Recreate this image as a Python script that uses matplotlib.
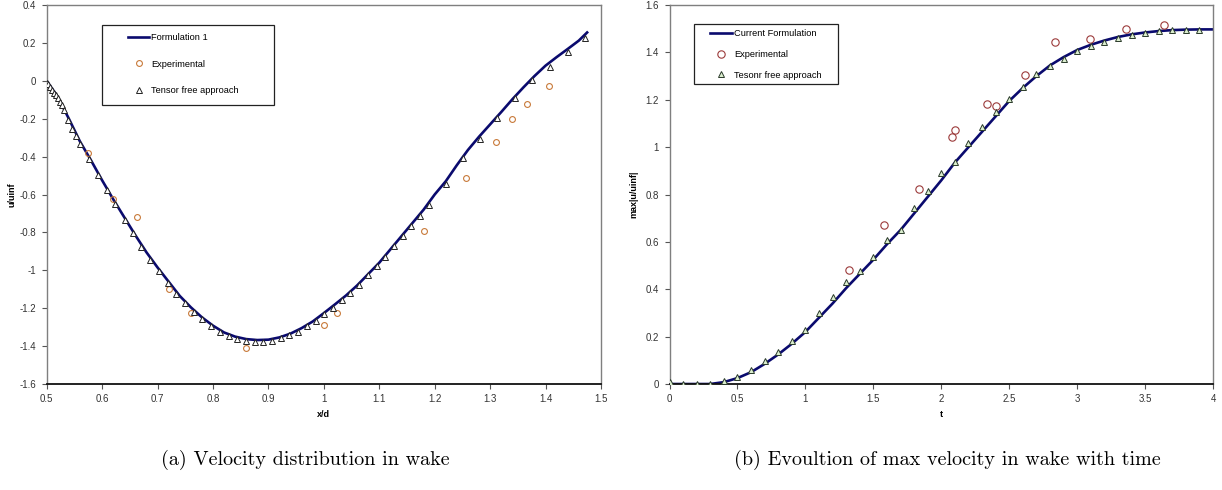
import numpy as np
import matplotlib
matplotlib.use("Agg")
import matplotlib.pyplot as plt
from matplotlib.patches import Rectangle
from matplotlib.ticker import FuncFormatter, MultipleLocator

# ---- data: (a) velocity distribution in wake ----
line_a_x = [0.5, 0.52, 0.54, 0.56, 0.58, 0.6, 0.62, 0.64, 0.66, 0.68, 0.7, 0.72, 0.74, 0.76,
            0.78, 0.8, 0.82, 0.84, 0.86, 0.88, 0.9, 0.92, 0.94, 0.96, 0.98, 1.0, 1.02, 1.04,
            1.06, 1.08, 1.1, 1.12, 1.14, 1.16, 1.18, 1.2, 1.22, 1.24, 1.26, 1.28, 1.3, 1.32,
            1.34, 1.36, 1.38, 1.4, 1.42, 1.44, 1.46, 1.475]
line_a_y = [0.0, -0.085, -0.2, -0.32, -0.42, -0.525, -0.625, -0.72, -0.815, -0.905, -0.985,
            -1.06, -1.135, -1.195, -1.248, -1.292, -1.328, -1.35, -1.363, -1.368, -1.366,
            -1.354, -1.334, -1.305, -1.27, -1.226, -1.18, -1.133, -1.08, -1.02, -0.96, -0.89,
            -0.82, -0.75, -0.68, -0.6, -0.53, -0.445, -0.365, -0.295, -0.23, -0.165, -0.098,
            -0.035, 0.025, 0.08, 0.125, 0.168, 0.212, 0.255]

exp_a_x = [0.575, 0.619, 0.663, 0.72, 0.76, 0.86, 1.0, 1.024, 1.18, 1.256, 1.31, 1.34,
           1.366, 1.406]
exp_a_y = [-0.381, -0.623, -0.719, -1.096, -1.223, -1.41, -1.291, -1.223, -0.793, -0.512,
           -0.323, -0.202, -0.123, -0.025]

tfa_a_x = [0.5, 0.502, 0.506, 0.51, 0.513, 0.517, 0.52, 0.524, 0.528, 0.531, 0.538, 0.546,
           0.553, 0.561, 0.577, 0.593, 0.609, 0.624, 0.641, 0.655, 0.671, 0.686, 0.703,
           0.718, 0.733, 0.749, 0.765, 0.781, 0.797, 0.813, 0.829, 0.844, 0.86, 0.875,
           0.891, 0.907, 0.922, 0.938, 0.954, 0.969, 0.985, 1.0, 1.016, 1.032, 1.047, 1.063,
           1.079, 1.096, 1.111, 1.126, 1.142, 1.158, 1.173, 1.189, 1.22, 1.251, 1.282,
           1.313, 1.345, 1.376, 1.408, 1.44, 1.471]
tfa_a_y = [-0.009, -0.019, -0.033, -0.047, -0.062, -0.075, -0.093, -0.111, -0.128, -0.153,
           -0.205, -0.254, -0.293, -0.332, -0.412, -0.496, -0.577, -0.651, -0.732, -0.802,
           -0.875, -0.946, -1.005, -1.068, -1.126, -1.174, -1.219, -1.258, -1.293, -1.325,
           -1.346, -1.361, -1.374, -1.377, -1.377, -1.375, -1.358, -1.344, -1.326, -1.296,
           -1.268, -1.233, -1.198, -1.156, -1.121, -1.075, -1.026, -0.977, -0.928, -0.874,
           -0.821, -0.765, -0.712, -0.654, -0.542, -0.407, -0.307, -0.196, -0.091, 0.002,
           0.075, 0.153, 0.225]

# ---- data: (b) max velocity vs time ----
line_b_t = [0.0, 0.3, 0.4, 0.5, 0.6, 0.7, 0.8, 0.9, 1.0, 1.1, 1.2, 1.3, 1.4, 1.5, 1.6, 1.7,
            1.8, 1.9, 2.0, 2.1, 2.2, 2.3, 2.4, 2.5, 2.6, 2.7, 2.8, 2.9, 3.0, 3.1, 3.2, 3.3,
            3.4, 3.5, 3.6, 3.7, 3.8, 3.9, 4.0]
line_b_v = [0.0, 0.0, 0.008, 0.025, 0.05, 0.085, 0.125, 0.17, 0.22, 0.28, 0.34, 0.405,
            0.465, 0.525, 0.59, 0.65, 0.72, 0.79, 0.86, 0.935, 1.0, 1.065, 1.13, 1.195, 1.25,
            1.3, 1.345, 1.38, 1.41, 1.432, 1.45, 1.465, 1.476, 1.484, 1.49, 1.494, 1.496,
            1.497, 1.497]

exp_b_t = [1.32, 1.58, 1.836, 2.076, 2.10, 2.336, 2.40, 2.615, 2.836, 3.096, 3.356, 3.64]
exp_b_v = [0.482, 0.671, 0.823, 1.043, 1.074, 1.184, 1.173, 1.305, 1.445, 1.455, 1.497, 1.517]

tfa_b_t = [0.0, 0.1, 0.2, 0.3, 0.4, 0.5, 0.6, 0.7, 0.8, 0.9, 1.0, 1.1, 1.2, 1.3, 1.4, 1.5,
           1.6, 1.7, 1.8, 1.9, 2.0, 2.1, 2.2, 2.3, 2.4, 2.5, 2.6, 2.7, 2.8, 2.9, 3.0, 3.1,
           3.2, 3.3, 3.4, 3.5, 3.6, 3.7, 3.8, 3.9]
tfa_b_v = [0.01, 0.0, 0.0, 0.0, 0.014, 0.031, 0.059, 0.099, 0.137, 0.183, 0.228, 0.299,
           0.369, 0.43, 0.479, 0.538, 0.606, 0.651, 0.743, 0.813, 0.891, 0.937, 1.018,
           1.085, 1.147, 1.204, 1.255, 1.307, 1.342, 1.374, 1.405, 1.426, 1.445, 1.462,
           1.473, 1.483, 1.49, 1.493, 1.494, 1.494]

NAVY = "#0a0a6e"
SANS = ["Liberation Sans", "DejaVu Sans"]
plt.rcParams["font.family"] = SANS


def fmt(v, pos):
    s = "{:g}".format(round(v, 6))
    return "0" if s == "-0" else s


# style an excel-like plot frame
def excel_axes(ax):
    for side in ["top", "right", "left"]:
        ax.spines[side].set_color("#7f7f7f")
        ax.spines[side].set_linewidth(1.0)
    ax.spines["bottom"].set_color("#111111")
    ax.spines["bottom"].set_linewidth(1.3)
    ax.tick_params(direction="out", length=3.5, width=0.8, labelsize=7,
                   labelcolor="#333333", color="#555555", pad=4)
    ax.xaxis.set_major_formatter(FuncFormatter(fmt))
    ax.yaxis.set_major_formatter(FuncFormatter(fmt))


# put a legend without frame and draw its box separately
def box_legend(ax, box, anchor, hlen, spacing):
    leg = ax.legend(loc="upper left", bbox_to_anchor=anchor, frameon=False,
                    borderpad=0, borderaxespad=0, handlelength=hlen, handletextpad=0.15,
                    labelspacing=spacing, prop={"family": SANS, "size": 6.7})
    ax.add_patch(Rectangle((box[0], box[1]), box[2], box[3], transform=ax.transAxes,
                           fill=False, edgecolor="#222222", linewidth=0.9, zorder=5,
                           clip_on=False))
    return leg


fig = plt.figure(figsize=(12.22, 4.90), dpi=100)

# (a)
ax1 = fig.add_axes([0.0382, 0.2163, 0.4536, 0.7735])
ax1.plot(line_a_x, line_a_y, color=NAVY, linewidth=1.9, label="Formulation 1", zorder=2)
ax1.plot(exp_a_x, exp_a_y, linestyle="none", marker="o", markersize=4.2,
         markerfacecolor="none", markeredgecolor="#c87a3a", markeredgewidth=0.8,
         label="Experimental", zorder=3)
ax1.plot(tfa_a_x, tfa_a_y, linestyle="none", marker="^", markersize=4.6,
         markerfacecolor="white", markeredgecolor="#222222", markeredgewidth=0.7,
         label="Tensor free approach", zorder=3)
ax1.set_xlim(0.5, 1.5)
ax1.set_ylim(-1.6, 0.4)
ax1.xaxis.set_major_locator(MultipleLocator(0.1))
ax1.yaxis.set_major_locator(MultipleLocator(0.2))
excel_axes(ax1)
ax1.set_xlabel("x/d", fontsize=6.5, fontweight="bold", labelpad=4)
ax1.set_ylabel("u/uinf", fontsize=6.5, fontweight="bold", labelpad=2)
box_legend(ax1, (0.0998, 0.736, 0.3102, 0.211), (0.1467, 0.925), 2.3, 1.85)

# (b)
ax2 = fig.add_axes([0.5479, 0.2163, 0.4448, 0.7735])
ax2.plot(line_b_t, line_b_v, color=NAVY, linewidth=1.9, label="Current Formulation", zorder=2)
ax2.plot(exp_b_t, exp_b_v, linestyle="none", marker="o", markersize=5.3,
         markerfacecolor="none", markeredgecolor="#9c3a3a", markeredgewidth=0.8,
         label="Experimental", zorder=3)
ax2.plot(tfa_b_t, tfa_b_v, linestyle="none", marker="^", markersize=4.6,
         markerfacecolor="#dcefcf", markeredgecolor="#2a3a2a", markeredgewidth=0.7,
         label="Tesonr free approach", zorder=3)
ax2.set_xlim(0, 4)
ax2.set_ylim(0, 1.6)
ax2.xaxis.set_major_locator(MultipleLocator(0.5))
ax2.yaxis.set_major_locator(MultipleLocator(0.2))
excel_axes(ax2)
ax2.set_xlabel("t", fontsize=6.5, fontweight="bold", labelpad=4)
ax2.set_ylabel("max|u/uinf|", fontsize=6.5, fontweight="bold", labelpad=5)
box_legend(ax2, (0.0456, 0.791, 0.265, 0.158), (0.0745, 0.936), 2.4, 1.25)

# captions
fig.text(0.2495, 0.0612, "(a) Velocity distribution in wake", ha="center", va="center",
         fontsize=14.5, family="cmr10")
fig.text(0.775, 0.0612, "(b) Evoultion of max velocity in wake with time", ha="center",
         va="center", fontsize=14.5, family="cmr10")

fig.savefig("out.png", dpi=100)
